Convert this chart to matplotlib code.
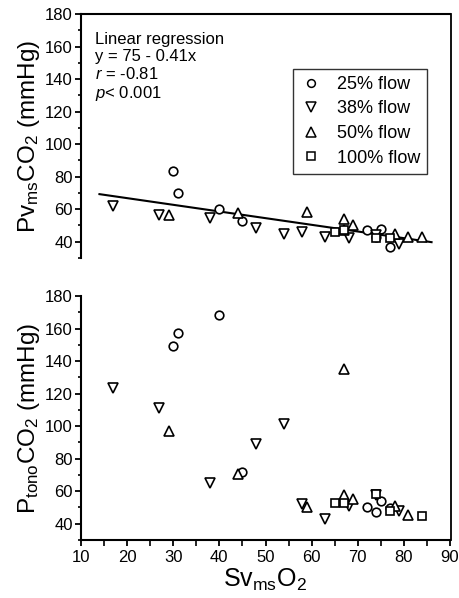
import matplotlib
matplotlib.use('Agg')
import matplotlib.pyplot as plt
from matplotlib.lines import Line2D

plt.rcParams['font.family'] = ['Liberation Sans', 'DejaVu Sans']
plt.rcParams['mathtext.fontset'] = 'custom'
plt.rcParams['mathtext.rm'] = 'Liberation Sans'
plt.rcParams['mathtext.it'] = 'Liberation Sans:italic'

# ---------------- data ----------------
flow_labels = ['25% flow', '38% flow', '50% flow', '100% flow']

x25 = [30, 31, 40, 45, 72, 74, 75, 77]
pv25 = [83.5, 70, 60, 52.5, 47, 43, 48, 37]
pt25 = [149, 157, 168.5, 72, 50, 47, 54, 49.5]

x38 = [17, 27, 38, 48, 54, 58, 63, 68, 74, 79]
pv38 = [62, 56.5, 54.5, 48.5, 45, 46, 43, 42, 44, 38.5]
pt38 = [123.5, 111, 65, 89, 101.5, 52, 43, 51, 57.5, 48]

x50 = [29, 44, 59, 67, 67, 69, 78, 81, 84]
pv50 = [56.5, 57.5, 58, 54, 47, 50.5, 45, 43, 43]
pt50 = [97, 70.5, 50.5, 135, 57.5, 55.5, 51, 45.5, None]

x100 = [65, 67, 74, 77, 84]
pv100 = [46, 47, 42, 42, None]
pt100 = [53, 53, 58.5, 48, 45]

reg_intercept = 75
reg_slope = -0.41
reg_x = [14, 86]

yticks = [40, 60, 80, 100, 120, 140, 160, 180]
xticks = [10, 20, 30, 40, 50, 60, 70, 80, 90]

# ---------------- figure ----------------
W, H = 460, 598
fig = plt.figure(figsize=(W / 100, H / 100), dpi=100)

L, R = 81 / W, 450 / W
ax1 = fig.add_axes([L, 1 - 258 / H, R - L, (258 - 14) / H])
ax2 = fig.add_axes([L, 1 - 540 / H, R - L, (540 - 296) / H])

markers = ['o', 'v', '^', 's']
sizes = [6.2, 7.3, 7.3, 6]
series = [(x25, pv25, pt25), (x38, pv38, pt38), (x50, pv50, pt50), (x100, pv100, pt100)]

def pts(xs, ys):
    xx = [a for a, b in zip(xs, ys) if b is not None]
    yy = [b for b in ys if b is not None]
    return xx, yy

for (xs, pv, pt), m, s in zip(series, markers, sizes):
    a, b = pts(xs, pv)
    ax1.plot(a, b, linestyle='none', marker=m, markersize=s, mfc='white',
             mec='black', mew=1.2, zorder=3)
    a, b = pts(xs, pt)
    ax2.plot(a, b, linestyle='none', marker=m, markersize=s, mfc='white',
             mec='black', mew=1.2, zorder=3)

ry = [reg_intercept + reg_slope * v for v in reg_x]
ax1.plot(reg_x, ry, color='black', lw=1.5, zorder=2)

for ax in (ax1, ax2):
    ax.set_xlim(10, 90)
    ax.set_ylim(30, 180)
    ax.set_yticks(yticks)
    ax.set_yticks(range(30, 181, 10), minor=True)
    ax.tick_params(axis='y', which='major', direction='out', length=4.5,
                   width=1.3, labelsize=12, pad=1.5)
    ax.tick_params(axis='y', which='minor', direction='out', length=2.5, width=1.2)
    ax.spines['right'].set_visible(False)
    ax.spines['left'].set_linewidth(1.5)
    ax.spines['left'].set_bounds(30, 180)

ax1.spines['bottom'].set_visible(False)
ax1.spines['top'].set_linewidth(1.5)
ax1.set_xticks([])

ax2.spines['top'].set_visible(False)
ax2.spines['bottom'].set_linewidth(1.5)
ax2.set_xticks(xticks)
ax2.set_xticks(range(15, 90, 10), minor=True)
ax2.tick_params(axis='x', which='major', direction='out', length=4.5,
                width=1.3, labelsize=12, pad=3)
ax2.tick_params(axis='x', which='minor', direction='out', length=4.5, width=1.2)

# right frame line spanning both panels
fig.add_artist(Line2D([R + 0.5 / W, R + 0.5 / W], [1 - 14 / H, 1 - 540 / H],
                      transform=fig.transFigure, color='black', lw=1.3))

ax1.set_ylabel(r'Pv$_{\rm ms}$CO$_2$ (mmHg)', fontsize=17.5, labelpad=2)
ax2.set_ylabel(r'P$_{\rm tono}$CO$_2$ (mmHg)', fontsize=17.5, labelpad=2)
ax2.set_xlabel(r'Sv$_{\rm ms}$O$_2$', fontsize=18, labelpad=1)

ax1.text(0.038, 0.925,
         'Linear regression\ny = 75 - 0.41x\n$\\it{r}$ = -0.81\n$\\it{p}$< 0.001',
         transform=ax1.transAxes, fontsize=12, va='top', ha='left',
         linespacing=1.15)

handles = [Line2D([], [], linestyle='none', marker=m, markersize=s * 0.9,
                  mfc='white', mec='black', mew=1.1)
           for m, s in zip(markers, sizes)]
leg = ax1.legend(handles, flow_labels, loc='upper left',
                 bbox_to_anchor=(0.575, 0.776), fontsize=13, frameon=True,
                 fancybox=False, edgecolor='black', handlelength=1.2,
                 handletextpad=0.8, labelspacing=0.42, borderpad=0.4,
                 borderaxespad=0)
leg.get_frame().set_linewidth(1.0)

fig.savefig('out.png', dpi=100)
